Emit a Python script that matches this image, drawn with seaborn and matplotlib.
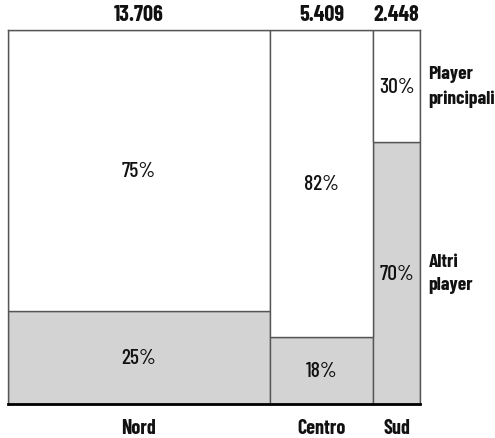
import matplotlib
matplotlib.use("Agg")
import matplotlib.pyplot as plt
import seaborn as sns
import numpy as np

# Market size per area and share split between the two player groups
regions = ["Nord", "Centro", "Sud"]
totals = [13706, 5409, 2448]
total_labels = ["13.706", "5.409", "2.448"]
share_altri = [25, 18, 70]       # bottom segment (%)
share_principali = [75, 82, 30]  # top segment (%)
group_labels = ["Player\nprincipali", "Altri\nplayer"]

sns.set_theme(style="white")
plt.rcParams["font.family"] = ["Barlow Condensed", "DejaVu Sans"]

fig = plt.figure(figsize=(4.95, 4.39), dpi=100)
ax = fig.add_axes([8 / 495, 34 / 439, 412 / 495, 374 / 439])

widths = np.array(totals, dtype=float)
lefts = np.concatenate([[0], np.cumsum(widths)[:-1]])
centers = lefts + widths / 2

edge = "#555555"
ink = "#111111"
ax.bar(lefts, share_altri, width=widths, align="edge",
       color="#d3d3d3", edgecolor=edge, linewidth=1)
ax.bar(lefts, share_principali, width=widths, bottom=share_altri, align="edge",
       color="white", edgecolor=edge, linewidth=1)

for c, a, p in zip(centers, share_altri, share_principali):
    ax.text(c, a / 2, f"{a}%", ha="center", va="center", fontsize=15.5,
            fontweight="medium", color=ink)
    ax.text(c, a + p / 2, f"{p}%", ha="center", va="center", fontsize=15.5,
            fontweight="medium", color=ink)

for c, lab, reg in zip(centers, total_labels, regions):
    ax.annotate(lab, (c, 100), xytext=(0, 4), textcoords="offset points",
                ha="center", va="bottom", fontsize=16, fontweight="bold", color=ink)
    ax.annotate(reg, (c, 0), xytext=(0, -10), textcoords="offset points",
                ha="center", va="top", fontsize=14.5, fontweight="bold", color=ink)

# group labels beside the last column
last = len(totals) - 1
right = widths.sum()
ax.annotate(group_labels[0], (right, share_altri[last] + share_principali[last] / 2),
            xytext=(6, 0), textcoords="offset points", ha="left", va="center",
            fontsize=14, fontweight="bold", linespacing=1.5, color=ink)
ax.annotate(group_labels[1], (right, share_altri[last] / 2),
            xytext=(6, 0), textcoords="offset points", ha="left", va="center",
            fontsize=14, fontweight="bold", linespacing=1.5, color=ink)

ax.set_xlim(0, right)
ax.set_ylim(0, 100)
ax.set_xticks([])
ax.set_yticks([])
for side in ["left", "right", "top"]:
    ax.spines[side].set_color(edge)
    ax.spines[side].set_linewidth(1)
ax.spines["bottom"].set_color("black")
ax.spines["bottom"].set_linewidth(2)

fig.savefig("out.png", dpi=100)
